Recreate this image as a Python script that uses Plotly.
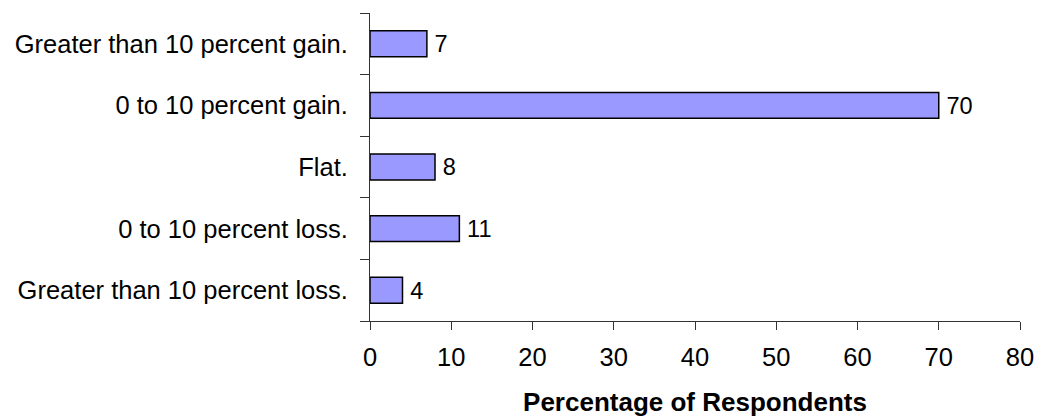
import plotly.graph_objects as go

# Survey responses, listed bottom to top
categories = [
    "Greater than 10 percent loss.",
    "0 to 10 percent loss.",
    "Flat.",
    "0 to 10 percent gain.",
    "Greater than 10 percent gain.",
]
percentages = [4, 11, 8, 70, 7]
x_ticks = [0, 10, 20, 30, 40, 50, 60, 70, 80]

FONT = "Liberation Sans, Arial, sans-serif"
SIZE = 25.5

fig = go.Figure(
    go.Bar(
        y=categories,
        x=percentages,
        orientation="h",
        width=0.42,
        marker=dict(color="#9999FF", line=dict(color="#000000", width=1.5)),
        text=["\u2009" + str(v) for v in percentages],
        textposition="outside",
        textfont=dict(family=FONT, size=SIZE, color="#000000"),
        cliponaxis=False,
    )
)

fig.update_layout(
    width=1038,
    height=417,
    margin=dict(l=370, r=18, t=13, b=96),
    paper_bgcolor="white",
    plot_bgcolor="white",
    font=dict(family=FONT, size=SIZE, color="#000000"),
    showlegend=False,
    xaxis=dict(
        range=[0, 80],
        tickvals=x_ticks,
        ticktext=[str(t) for t in x_ticks],
        showgrid=False,
        zeroline=False,
        showline=True,
        linecolor="#333333",
        linewidth=1,
        ticks="outside",
        ticklen=8,
        tickcolor="#333333",
        tickfont=dict(family=FONT, size=SIZE),
        ticklabelstandoff=5,
        automargin=False,
        title=dict(
            text="<b>Percentage of Respondents</b>",
            font=dict(family=FONT, size=26),
            standoff=30,
        ),
    ),
    yaxis=dict(
        categoryorder="array",
        categoryarray=categories,
        range=[-0.5, 4.5],
        showgrid=False,
        zeroline=False,
        showline=True,
        linecolor="#333333",
        linewidth=1,
        ticks="outside",
        tickson="boundaries",
        ticklen=9,
        tickcolor="#333333",
        tickfont=dict(family=FONT, size=SIZE),
        ticklabelstandoff=16,
        automargin=False,
    ),
)

fig.write_html("out.html")
